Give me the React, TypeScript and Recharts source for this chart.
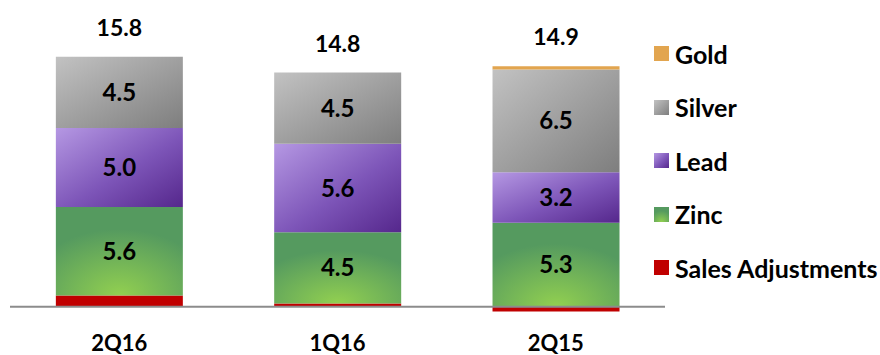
import { BarChart, Bar, XAxis, YAxis, LabelList, ReferenceLine } from "recharts";

const quarters = ["2Q16", "1Q16", "2Q15"];
const salesAdjustments = [0.7, 0.2, -0.3];
const zinc = [5.6, 4.5, 5.3];
const lead = [5.0, 5.6, 3.2];
const silver = [4.5, 4.5, 6.5];
const gold = [0, 0, 0.2];
const totals = [15.8, 14.8, 14.9];

const FONT = "Lato, 'Open Sans', sans-serif";

const series = [
  { key: "gold", name: "Gold", fill: "#e2a54f", swatch: "#e2a54f", label: false },
  { key: "silver", name: "Silver", fill: "url(#silverFill)", swatch: "url(#silverFill)", label: true },
  { key: "lead", name: "Lead", fill: "url(#leadFill)", swatch: "url(#leadFill)", label: true },
  { key: "zinc", name: "Zinc", fill: "url(#zincFill)", swatch: "url(#zincFill)", label: true },
  { key: "sales", name: "Sales Adjustments", fill: "#c00000", swatch: "#c00000", label: false },
];

const data = quarters.map((q, i) => ({
  quarter: q,
  sales: salesAdjustments[i],
  zinc: zinc[i],
  lead: lead[i],
  silver: silver[i],
  gold: gold[i],
  total: totals[i],
}));

// total sits above the stack; gold adds a sliver on top of silver where present
function TotalLabel(props: any) {
  const { x, y, width, value, index } = props;
  const goldLift = gold[index] > 0 ? 3 : 0;
  return (
    <text
      x={x + width / 2}
      y={y - goldLift - 30}
      textAnchor="middle"
      dominantBaseline="central"
      fontFamily={FONT}
      fontWeight={700}
      fontSize={23}
      fill="#000"
    >
      {Number(value).toFixed(1)}
    </text>
  );
}

function QuarterTick(props: any) {
  const { x, y, payload } = props;
  return (
    <text
      x={x}
      y={y + 21}
      textAnchor="middle"
      dominantBaseline="central"
      fontFamily={FONT}
      fontWeight={700}
      fontSize={22}
      fill="#000"
    >
      {payload.value}
    </text>
  );
}

function LegendList() {
  return (
    <div
      style={{
        position: "absolute",
        left: 654,
        top: 27,
        fontFamily: FONT,
        fontWeight: 700,
        fontSize: 25,
        color: "#000",
      }}
    >
      {series.map((s) => (
        <div
          key={s.key}
          style={{ display: "flex", alignItems: "center", height: 53.5, whiteSpace: "nowrap" }}
        >
          <svg width={15} height={15} style={{ marginRight: 6 }}>
            <rect width={15} height={15} fill={s.swatch} />
          </svg>
          {s.name}
        </div>
      ))}
    </div>
  );
}

export default function App() {
  const stackOrder = [...series].reverse();
  return (
    <div style={{ position: "absolute", left: 0, top: 0, width: 880, height: 355, background: "#fff" }}>
      <BarChart
        width={880}
        height={355}
        data={data}
        stackOffset="sign"
        barCategoryGap="21%"
        margin={{ top: 22, right: 215, bottom: 12, left: 10 }}
      >
        <defs>
          <linearGradient id="silverFill" x1="0" y1="0" x2="1" y2="1">
            <stop offset="0%" stopColor="#c2c2c2" />
            <stop offset="100%" stopColor="#7e7e7e" />
          </linearGradient>
          <linearGradient id="leadFill" x1="0" y1="0" x2="1" y2="1">
            <stop offset="0%" stopColor="#b598e3" />
            <stop offset="55%" stopColor="#7d55b8" />
            <stop offset="100%" stopColor="#55278c" />
          </linearGradient>
          <radialGradient id="zincFill" cx="0.5" cy="1" r="0.75">
            <stop offset="0%" stopColor="#92d050" />
            <stop offset="100%" stopColor="#559a5f" />
          </radialGradient>
        </defs>
        <XAxis
          dataKey="quarter"
          axisLine={false}
          tickLine={false}
          height={30}
          tick={<QuarterTick />}
        />
        <YAxis hide domain={[-0.4, 18]} allowDataOverflow />
        {stackOrder.map((s) => (
          <Bar
            key={s.key}
            dataKey={s.key}
            name={s.name}
            stackId="metals"
            fill={s.fill}
            isAnimationActive={false}
          >
            {s.label && (
              <LabelList
                dataKey={s.key}
                position="center"
                formatter={(v: any) => Number(v).toFixed(1)}
                fill="#000"
                fontFamily={FONT}
                fontWeight={700}
                fontSize={24}
              />
            )}
            {s.key === "silver" && <LabelList dataKey="total" content={<TotalLabel />} />}
          </Bar>
        ))}
        <ReferenceLine y={0} stroke="#8c8c8c" strokeWidth={2} />
      </BarChart>
      <LegendList />
    </div>
  );
}
